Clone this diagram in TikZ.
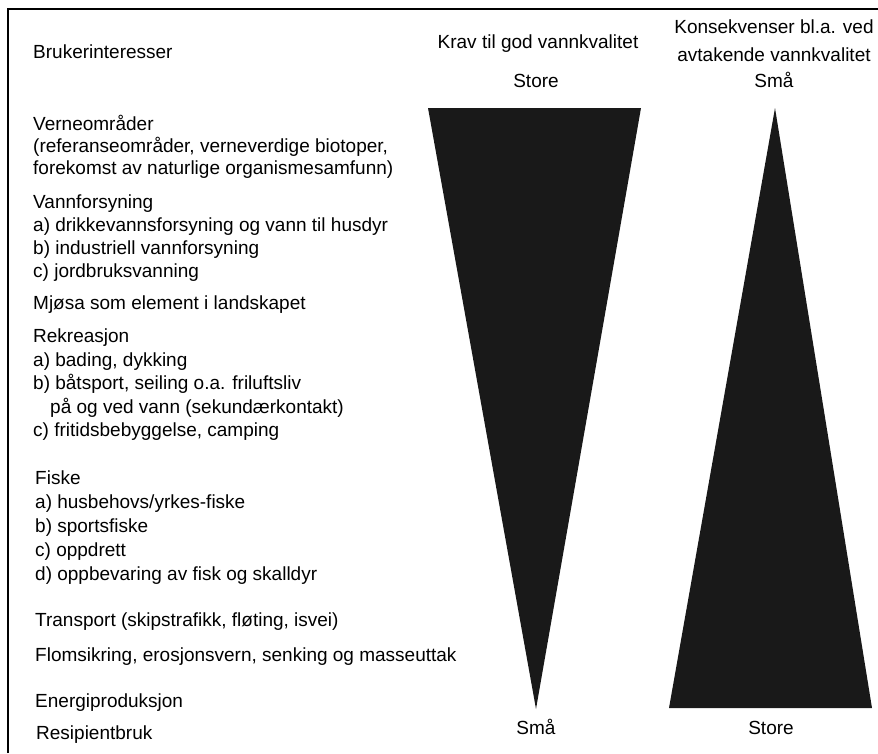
\documentclass[tikz,border=0pt]{standalone}
\usepackage{fontspec}
\setmainfont{Liberation Sans}
\begin{document}
\begin{tikzpicture}[x=1pt,y=-1pt,
  txt/.style={anchor=base west,inner sep=0pt,font=\fontsize{19}{23}\selectfont},
  hdr/.style={anchor=base,inner sep=0pt,font=\fontsize{19}{23}\selectfont},
  wedge/.style={fill=black!90,draw=none},
  frame/.style={line width=1.6pt}]
\useasboundingbox (0,0) rectangle (878,753);
\draw[frame] (8,753) -- (8,9) -- (878,9);
% headers
\node[txt] (bruk) at (33,58) {Brukerinteresser};
\node[hdr] (krav) at (538,48) {Krav til god vannkvalitet};
\node[hdr] (kravtop) at (536,87) {Store};
\node[hdr] (kons1) at (774,33) {Konsekvenser bl.a. ved};
\node[hdr] (kons2) at (774,61) {avtakende vannkvalitet};
\node[hdr] (konstop) at (774,87) {Små};
\node[hdr] (kravbot) at (536,734) {Små};
\node[hdr] (konsbot) at (771,734) {Store};
% wedges
\fill[wedge] (428,108) -- (641,108) -- (536,709) -- cycle;
\fill[wedge] (775,108) -- (872,708) -- (669,708) -- cycle;
% left column
\node[txt] (v1) at (33,130) {Verneområder};
\node[txt] (v2) at (33,152) {(referanseområder, verneverdige biotoper,};
\node[txt] (v3) at (33,174) {forekomst av naturlige organismesamfunn)};
\node[txt] (w1) at (33,208) {Vannforsyning};
\node[txt] (w2) at (33,231) {a) drikkevannsforsyning og vann til husdyr};
\node[txt] (w3) at (33,254) {b) industriell vannforsyning};
\node[txt] (w4) at (33,277) {c) jordbruksvanning};
\node[txt] (m1) at (33,309) {Mjøsa som element i landskapet};
\node[txt] (r1) at (33,342.5) {Rekreasjon};
\node[txt] (r2) at (33,366) {a) bading, dykking};
\node[txt] (r3) at (33,389.5) {b) båtsport, seiling o.a. friluftsliv};
\node[txt] (r4) at (50,413) {på og ved vann (sekundærkontakt)};
\node[txt] (r5) at (33,436.5) {c) fritidsbebyggelse, camping};
\node[txt] (f1) at (35,484) {Fiske};
\node[txt] (f2) at (35,508) {a) husbehovs/yrkes-fiske};
\node[txt] (f3) at (35,532) {b) sportsfiske};
\node[txt] (f4) at (35,556) {c) oppdrett};
\node[txt] (f5) at (35,580) {d) oppbevaring av fisk og skalldyr};
\node[txt] (t1) at (35,626) {Transport (skipstrafikk, fløting, isvei)};
\node[txt] (fl1) at (35,661) {Flomsikring, erosjonsvern, senking og masseuttak};
\node[txt] (e1) at (35,707) {Energiproduksjon};
\node[txt] (re1) at (36,739) {Resipientbruk};
\end{tikzpicture}
\end{document}
